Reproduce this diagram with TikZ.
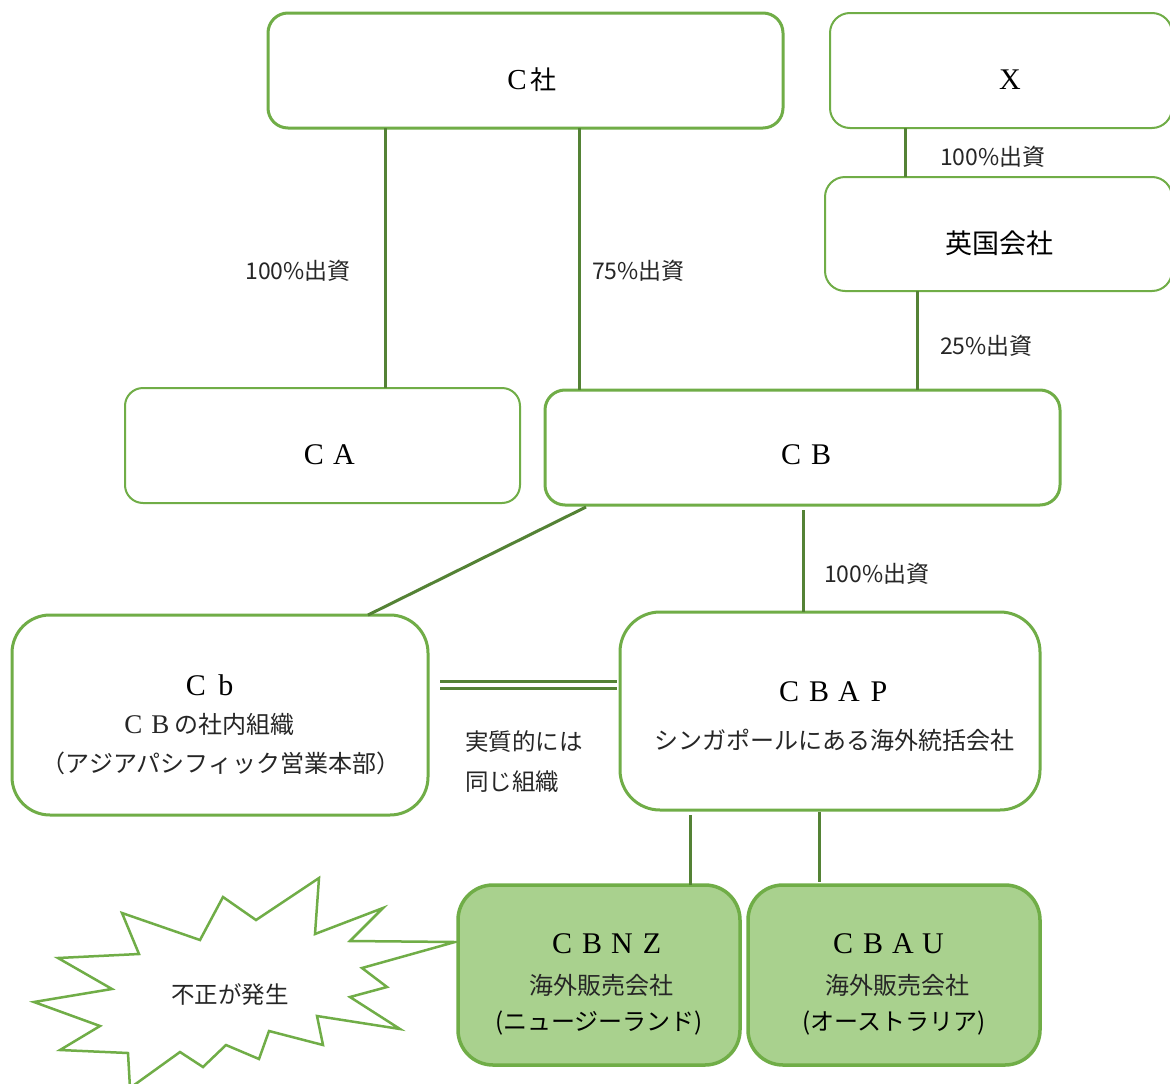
\documentclass[tikz,border=0pt]{standalone}
\usepackage{fontspec}
\setmainfont{Liberation Serif}
\newfontfamily\jp{Noto Sans CJK JP}
\usetikzlibrary{calc}
\definecolor{boxgreen}{HTML}{70AD47}
\definecolor{linegreen}{HTML}{548235}
\definecolor{fillgreen}{HTML}{A9D18E}
\definecolor{txt}{HTML}{262626}
\newcommand\fwl[1]{\makebox[1em]{#1}}
\tikzset{
  box/.style={draw=boxgreen, rectangle, rounded corners=20pt, line width=3pt, inner sep=0pt, outer sep=0pt, fill=white},
  thinbox/.style={box, line width=2pt},
  greenbox/.style={box, fill=fillgreen, line width=3.5pt, rounded corners=35pt},
  conn/.style={draw=linegreen, line width=3pt},
  dbl/.style={draw=linegreen, double=white, line width=3pt, double distance=4pt},
  lbl/.style={font=\jp\fontsize{23}{26}\selectfont, text=txt, inner sep=0pt},
  ttl/.style={font=\fontsize{30}{34}\selectfont, text=black, inner sep=0pt},
  sub/.style={font=\jp\fontsize{24}{28}\selectfont, text=txt, inner sep=0pt},
  burst/.style={draw=boxgreen, line width=2.5pt, fill=white, line join=miter}
}
\begin{document}
\begin{tikzpicture}[x=1pt,y=-1pt]
\useasboundingbox[fill=white] (0,0) rectangle (1170,1084);

% starburst
\draw[burst] (455,942) -- (350,941) -- (383,908) -- (315,934) -- (319,878) -- (256,920)
  -- (223,897) -- (200,940) -- (122,913) -- (139,954) -- (58,958) -- (112,989)
  -- (34,1002) -- (100,1026) -- (60,1050) -- (128,1053) -- (130,1088) -- (180,1052)
  -- (203,1067) -- (226,1045) -- (259,1059) -- (269,1031) -- (323,1045) -- (317,1016)
  -- (400,1029) -- (350,997) -- (387,987) -- (362,968) -- cycle;
\node[lbl, font=\jp\fontsize{23.5}{26}\selectfont] (fusei) at (230,995) {不正が発生};

% boxes
\node[box, minimum width=515pt, minimum height=115pt] (c) at (525.5,70.5) {};
\node[thinbox, minimum width=342pt, minimum height=115pt] (x) at (1001,70.5) {};
\node[thinbox, minimum width=347pt, minimum height=114pt] (uk) at (998.5,234) {};
\node[thinbox, rounded corners=18pt, minimum width=395pt, minimum height=115pt] (ca) at (322.5,445.5) {};
\node[box, minimum width=515pt, minimum height=115pt] (cb) at (802.5,447.5) {};
\node[box, rounded corners=38pt, minimum width=416pt, minimum height=200pt] (cbs) at (220,715) {};
\node[box, rounded corners=40pt, minimum width=420pt, minimum height=198pt] (cbap) at (830,711) {};
\node[greenbox, minimum width=282pt, minimum height=180pt] (nz) at (599,975) {};
\node[greenbox, minimum width=292pt, minimum height=180pt] (au) at (894,975) {};

% helper coordinates
\coordinate (v1) at (385,0);
\coordinate (v2) at (579,0);
\coordinate (v3) at (905,0);
\coordinate (v4) at (917,0);
\coordinate (v5) at (803,0);
\coordinate (v6) at (690,0);
\coordinate (v7) at (819,0);
\coordinate (h1) at (0,685);

% connectors
\draw[conn] (c.south -| v1) -- (ca.north -| v1);
\draw[conn] (c.south -| v2) -- (cb.north -| v2);
\draw[conn] (x.south -| v3) -- (uk.north -| v3);
\draw[conn] (uk.south -| v4) -- (cb.north -| v4);
\draw[conn] ([yshift=-5pt]cb.south -| v5) -- (cbap.north -| v5);
\draw[conn] ([xshift=41pt,yshift=-2pt]cb.south west) -- ([xshift=-60pt]cbs.north east);
\draw[dbl] ([xshift=12pt]cbs.east |- h1) -- ([xshift=-3pt]cbap.west |- h1);
\draw[conn] ([yshift=-5pt]cbap.south -| v6) -- (nz.north -| v6);
\draw[conn] ([yshift=-2pt]cbap.south -| v7) -- ([yshift=3pt]au.north -| v7);

% labels on connectors
\node[lbl] (l1) at (298,271) {100\%出資};
\node[lbl, anchor=west] (l2) at (592,271) {75\%出資};
\node[lbl, anchor=west] (l3) at (940,157) {100\%出資};
\node[lbl, anchor=west] (l4) at (940,346) {25\%出資};
\node[lbl, anchor=west] (l5) at (824,574) {100\%出資};
\node[lbl, anchor=west, font=\jp\fontsize{23.5}{26}\selectfont] (l6) at (465,742) {実質的には};
\node[lbl, anchor=west, font=\jp\fontsize{23.5}{26}\selectfont] (l7) at (465,782) {同じ組織};

% texts in boxes
\node[ttl] (tc) at (532,80) {\fontsize{29}{32}\selectfont C\hspace{4pt}{\jp\fontsize{26}{30}\selectfont 社}};
\node[ttl] (tx) at (1010,80) {X};
\node[ttl, font=\jp\fontsize{27}{30}\selectfont] (tuk) at (999,243) {英国会社};
\node[ttl] (tca) at (329,455) {\fwl{C}\fwl{A}};
\node[ttl] (tcb) at (806,455) {\fwl{C}\fwl{B}};
\node[ttl] (tcs) at (211,685) {\fwl{C}\fwl{b}};
\node[sub] (tcs2) at (207,724) {{\fontspec{Liberation Serif}\fontsize{27}{28}\selectfont\fwl{C}\fwl{B}}の社内組織};
\node[sub] (tcs3) at (221,763) {（アジアパシフィック営業本部）};
\node[ttl] (tap) at (834,692) {\fwl{C}\fwl{B}\fwl{A}\fwl{P}};
\node[sub] (tap2) at (834,740) {シンガポールにある海外統括会社};
\node[ttl] (tnz) at (607,944) {\fwl{C}\fwl{B}\fwl{N}\fwl{Z}};
\node[sub] (tnz2) at (601,985) {海外販売会社};
\node[sub, text=black] (tnz3) at (599,1023) {(ニュージーランド)};
\node[ttl] (tau) at (888,944) {\fwl{C}\fwl{B}\fwl{A}\fwl{U}};
\node[sub] (tau2) at (897,985) {海外販売会社};
\node[sub, text=black] (tau3) at (894,1023) {(オーストラリア)};
\end{tikzpicture}
\end{document}
